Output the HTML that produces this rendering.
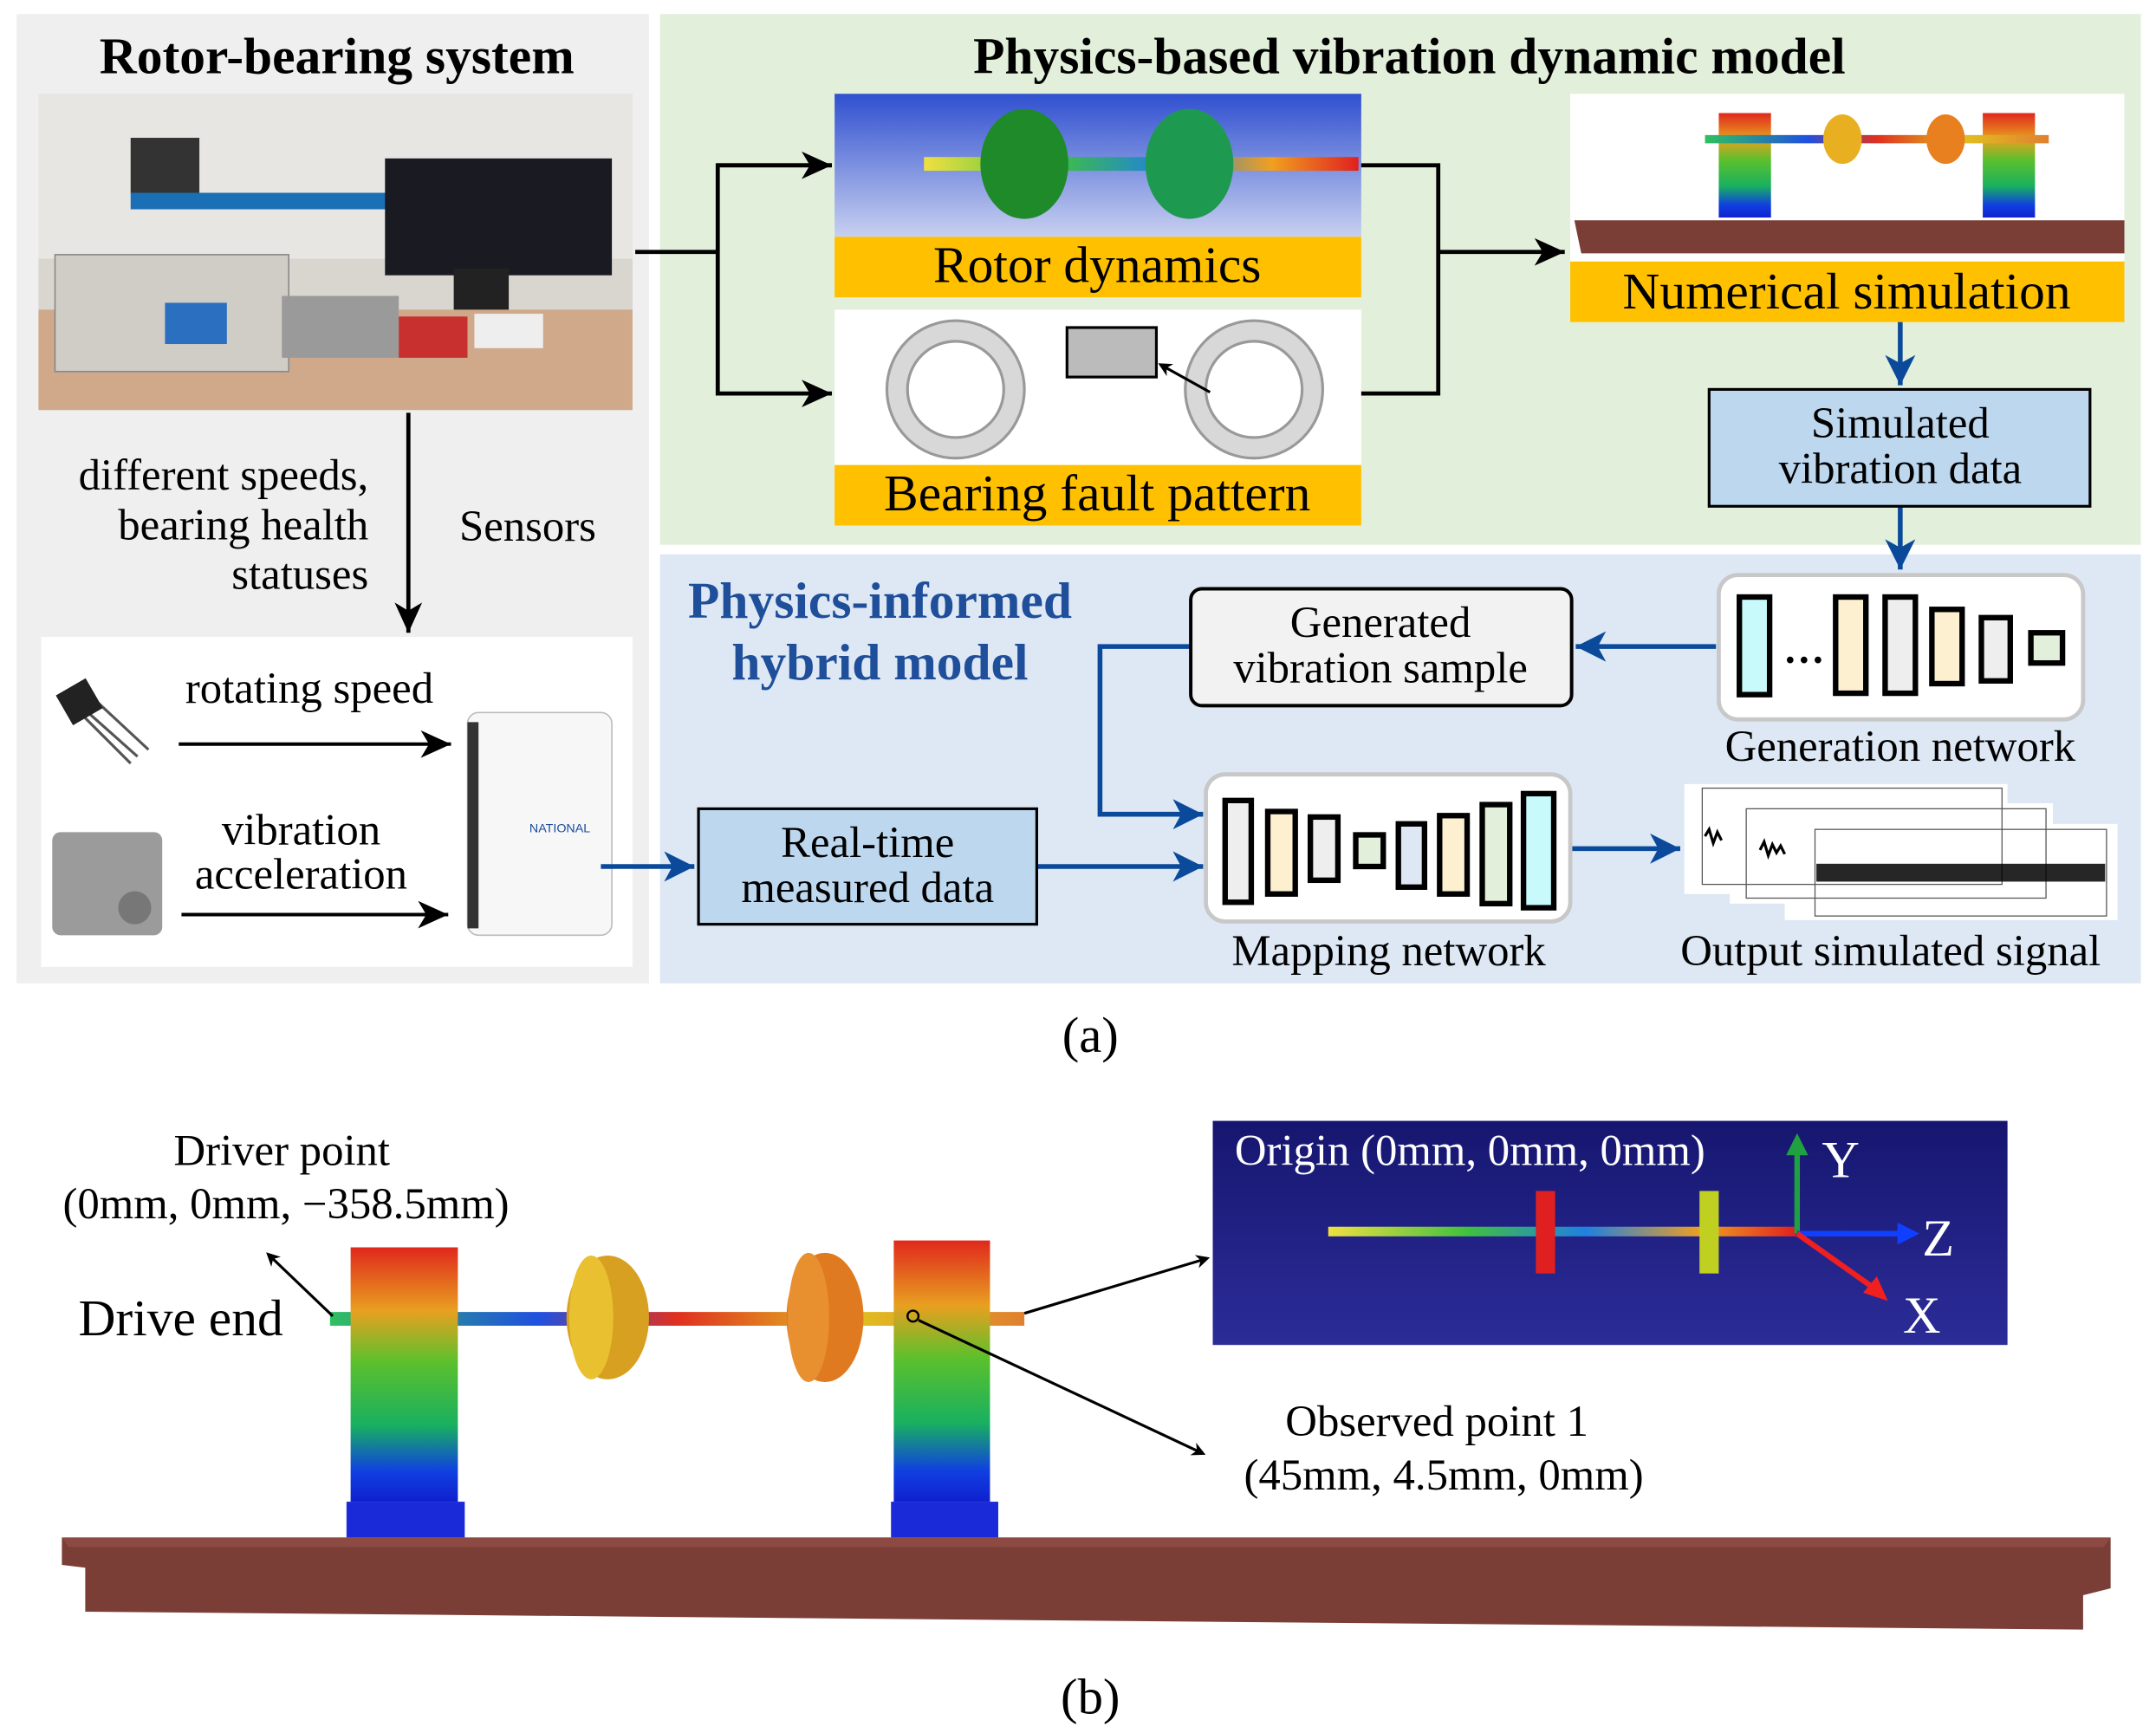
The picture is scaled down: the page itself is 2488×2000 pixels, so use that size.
<!DOCTYPE html>
<html><head><meta charset="utf-8"><style>html,body{margin:0;padding:0;background:#fff}svg{display:block}</style></head>
<body>
<svg width="2488" height="2000" viewBox="0 0 1568 1260" xmlns="http://www.w3.org/2000/svg" font-family="'Liberation Serif',serif">
<defs>
<marker id="ab" markerWidth="10" markerHeight="10" refX="8" refY="5" orient="auto" markerUnits="userSpaceOnUse"><path d="M0,0 L10,5 L0,10 L3,5 z" fill="#000"/></marker>
<marker id="abl" markerWidth="24" markerHeight="24" refX="22" refY="12" orient="auto" markerUnits="userSpaceOnUse"><path d="M0,1 L22,12 L0,23 L6,12 z" fill="#0b4a9a"/></marker>
<marker id="abk" markerWidth="24" markerHeight="24" refX="22" refY="12" orient="auto" markerUnits="userSpaceOnUse"><path d="M0,2 L22,12 L0,22 L6,12 z" fill="#000"/></marker>
<linearGradient id="ped" x1="0" y1="0" x2="0" y2="1"><stop offset="0" stop-color="#e0281c"/><stop offset="0.25" stop-color="#e8a020"/><stop offset="0.45" stop-color="#5cc02c"/><stop offset="0.7" stop-color="#18b060"/><stop offset="0.88" stop-color="#1040e0"/><stop offset="1" stop-color="#1020d0"/></linearGradient>
<linearGradient id="shaft" x1="0" y1="0" x2="1" y2="0"><stop offset="0" stop-color="#30c060"/><stop offset="0.3" stop-color="#2050e0"/><stop offset="0.5" stop-color="#e03020"/><stop offset="0.75" stop-color="#e0c020"/><stop offset="1" stop-color="#e08030"/></linearGradient>
<linearGradient id="orig" x1="0" y1="0" x2="0" y2="1"><stop offset="0" stop-color="#161670"/><stop offset="1" stop-color="#2c2c98"/></linearGradient>
<linearGradient id="rot" x1="0" y1="0" x2="0" y2="1"><stop offset="0" stop-color="#3050d0"/><stop offset="1" stop-color="#c8d0f0"/></linearGradient>
<linearGradient id="sh2" x1="0" y1="0" x2="1" y2="0"><stop offset="0" stop-color="#f0e040"/><stop offset="0.3" stop-color="#40c040"/><stop offset="0.55" stop-color="#2080e0"/><stop offset="0.8" stop-color="#f0a020"/><stop offset="1" stop-color="#e02020"/></linearGradient>
</defs>

<rect x="12" y="10" width="460" height="705" fill="#efefef"/>
<rect x="480" y="10" width="1077" height="386" fill="#e2efda"/>
<rect x="480" y="403" width="1077" height="312" fill="#dde8f4"/>

<text x="245" y="53" font-size="37.5" font-weight="bold" text-anchor="middle">Rotor-bearing system</text>
<text x="1025" y="53" font-size="37.5" font-weight="bold" text-anchor="middle">Physics-based vibration dynamic model</text>

<rect x="28" y="68" width="432" height="230" fill="#d9d6d0"/>
<rect x="28" y="68" width="432" height="120" fill="#e8e6e2"/>
<rect x="28" y="225" width="432" height="73" fill="#cfa98a"/>
<rect x="40" y="185" width="170" height="85" fill="#cfcdc6" stroke="#888"/>
<rect x="120" y="220" width="45" height="30" fill="#2a6fc0"/>
<rect x="95" y="140" width="220" height="12" fill="#1b6fb5"/>
<rect x="280" y="115" width="165" height="85" fill="#1a1a22"/>
<rect x="330" y="195" width="40" height="30" fill="#222"/>
<rect x="205" y="215" width="85" height="45" fill="#9a9a9a"/>
<rect x="290" y="230" width="50" height="30" fill="#c83030"/>
<rect x="345" y="228" width="50" height="25" fill="#eee"/>
<rect x="95" y="100" width="50" height="40" fill="#333"/>

<line x1="297" y1="300" x2="297" y2="460" stroke="#000" stroke-width="3" marker-end="url(#abk)"/>
<g font-size="32">
<text x="268" y="356" text-anchor="end">different speeds,</text>
<text x="268" y="392" text-anchor="end">bearing health</text>
<text x="268" y="428" text-anchor="end">statuses</text>
<text x="334" y="393">Sensors</text>
</g>
<rect x="30" y="463" width="430" height="240" fill="#fff"/>
<g font-size="32" text-anchor="middle">
<text x="225" y="511">rotating speed</text>
<text x="219" y="614">vibration</text>
<text x="219" y="646">acceleration</text>
</g>
<line x1="130" y1="541" x2="328" y2="541" stroke="#000" stroke-width="2.5" marker-end="url(#abk)"/>
<line x1="132" y1="665" x2="326" y2="665" stroke="#000" stroke-width="2.5" marker-end="url(#abk)"/>
<g stroke="#555" stroke-width="2"><line x1="55" y1="510" x2="100" y2="550"/><line x1="65" y1="505" x2="108" y2="545"/><line x1="60" y1="520" x2="95" y2="555"/></g>
<rect x="45" y="498" width="25" height="25" fill="#222" transform="rotate(-30 57 510)"/>
<rect x="38" y="605" width="80" height="75" rx="6" fill="#9b9b9b"/>
<circle cx="98" cy="660" r="12" fill="#777"/>
<rect x="340" y="518" width="105" height="162" rx="8" fill="#f7f7f7" stroke="#bbb"/>
<rect x="340" y="525" width="8" height="150" fill="#333"/>
<text x="385" y="605" font-size="9" fill="#1a4a9a" font-family="'Liberation Sans',sans-serif">NATIONAL</text>

<text x="640" y="449" font-size="37.5" font-weight="bold" fill="#1f4e9a" text-anchor="middle">Physics-informed</text>
<text x="640" y="494" font-size="37.5" font-weight="bold" fill="#1f4e9a" text-anchor="middle">hybrid model</text>

<g stroke="#0b4a9a" stroke-width="3.5" fill="none">
<line x1="437" y1="630" x2="505" y2="630" marker-end="url(#abl)"/>
<line x1="754" y1="630" x2="875" y2="630" marker-end="url(#abl)"/>
<line x1="1143" y1="617" x2="1222" y2="617" marker-end="url(#abl)"/>
<line x1="1248" y1="470" x2="1146" y2="470" marker-end="url(#abl)"/>
<polyline points="866,470 800,470 800,592 875,592" marker-end="url(#abl)"/>
<line x1="1382" y1="234" x2="1382" y2="280" marker-end="url(#abl)"/>
<line x1="1382" y1="368" x2="1382" y2="414" marker-end="url(#abl)"/>
</g>

<rect x="508" y="588" width="246" height="84" fill="#bdd7ee" stroke="#000" stroke-width="2"/>
<text x="631" y="623" font-size="32" text-anchor="middle">Real-time</text>
<text x="631" y="656" font-size="32" text-anchor="middle">measured data</text>

<rect x="866" y="428" width="277" height="85" rx="8" fill="#f2f2f2" stroke="#000" stroke-width="2.5"/>
<text x="1004" y="463" font-size="32" text-anchor="middle">Generated</text>
<text x="1004" y="496" font-size="32" text-anchor="middle">vibration sample</text>

<rect x="1250" y="418" width="265" height="105" rx="14" fill="#fff" stroke="#c8c8c8" stroke-width="3"/>
<g stroke="#000" stroke-width="4">
<rect x="1265" y="434" width="22" height="71" fill="#c8fafc"/>
<rect x="1335" y="434" width="22" height="70" fill="#fdf0d0"/>
<rect x="1371" y="434" width="22" height="70" fill="#eee"/>
<rect x="1405" y="443" width="22" height="54" fill="#fdf0d0"/>
<rect x="1441" y="449" width="21" height="46" fill="#eee"/>
<rect x="1477" y="460" width="23" height="22" fill="#e2efda"/>
</g>
<text x="1312" y="482" font-size="30" font-weight="bold" text-anchor="middle">…</text>
<text x="1382" y="553" font-size="32" text-anchor="middle">Generation network</text>

<rect x="877" y="563" width="265" height="107" rx="14" fill="#fff" stroke="#c8c8c8" stroke-width="3"/>
<g stroke="#000" stroke-width="4">
<rect x="891" y="582" width="19" height="74" fill="#eee"/>
<rect x="922" y="590" width="20" height="60" fill="#fdf0d0"/>
<rect x="953" y="594" width="20" height="46" fill="#eee"/>
<rect x="986" y="607" width="20" height="23" fill="#e2efda"/>
<rect x="1017" y="599" width="19" height="46" fill="#dde8f4"/>
<rect x="1047" y="593" width="20" height="57" fill="#fdf0d0"/>
<rect x="1078" y="585" width="20" height="72" fill="#e2efda"/>
<rect x="1108" y="577" width="22" height="83" fill="#c8fafc"/>
</g>
<text x="1010" y="702" font-size="32" text-anchor="middle">Mapping network</text>

<rect x="1225" y="570" width="235" height="80" fill="#fff"/>
<rect x="1258" y="584" width="235" height="73" fill="#fff"/>
<rect x="1298" y="599" width="242" height="70" fill="#fff"/>
<g stroke="#555" stroke-width="0.8" fill="none">
<rect x="1238" y="573" width="218" height="70"/>
<rect x="1270" y="588" width="218" height="65"/>
<rect x="1320" y="603" width="212" height="63"/>
</g>
<path d="M1240,608 l3,-5 l3,10 l3,-8 l3,6 M1280,618 l3,-6 l3,10 l3,-8 l3,6 l3,-5 l3,6" stroke="#000" stroke-width="2" fill="none"/>
<rect x="1321" y="628" width="210" height="13" fill="#000" opacity="0.85"/>
<text x="1375" y="702" font-size="32" text-anchor="middle">Output simulated signal</text>

<rect x="607" y="68" width="383" height="104" fill="url(#rot)"/>
<rect x="672" y="114" width="316" height="10" fill="url(#sh2)"/>
<ellipse cx="745" cy="119" rx="32" ry="40" fill="#1f8a2a"/>
<ellipse cx="865" cy="119" rx="32" ry="40" fill="#1e9a50"/>
<rect x="607" y="172" width="383" height="44" fill="#ffc000"/>
<text x="798" y="205" font-size="37.5" text-anchor="middle">Rotor dynamics</text>
<rect x="607" y="225" width="383" height="113" fill="#fff"/>
<ellipse cx="695" cy="283" rx="50" ry="50" fill="#d8d8d8" stroke="#999" stroke-width="2"/>
<ellipse cx="695" cy="283" rx="35" ry="35" fill="#fff" stroke="#999" stroke-width="2"/>
<ellipse cx="912" cy="283" rx="50" ry="50" fill="#d8d8d8" stroke="#999" stroke-width="2"/>
<ellipse cx="912" cy="283" rx="35" ry="35" fill="#fff" stroke="#999" stroke-width="2"/>
<rect x="776" y="238" width="65" height="36" fill="#bbb" stroke="#000" stroke-width="2"/>
<line x1="880" y1="285" x2="844" y2="265" stroke="#000" stroke-width="2" marker-end="url(#ab)"/>
<rect x="607" y="338" width="383" height="44" fill="#ffc000"/>
<text x="798" y="371" font-size="37.5" text-anchor="middle">Bearing fault pattern</text>

<rect x="1142" y="68" width="403" height="122" fill="#fff"/>
<path d="M1145,160 L1545,160 L1545,184 L1150,184 z" fill="#7a3e37"/>
<rect x="1250" y="82" width="38" height="76" fill="url(#ped)"/>
<rect x="1442" y="82" width="38" height="76" fill="url(#ped)"/>
<rect x="1240" y="98" width="250" height="6" fill="url(#shaft)"/>
<ellipse cx="1340" cy="101" rx="14" ry="18" fill="#e8b020"/>
<ellipse cx="1415" cy="101" rx="14" ry="18" fill="#e88020"/>
<rect x="1142" y="190" width="403" height="44" fill="#ffc000"/>
<text x="1343" y="224" font-size="37.5" text-anchor="middle">Numerical simulation</text>

<rect x="1243" y="283" width="277" height="85" fill="#bdd7ee" stroke="#000" stroke-width="2"/>
<text x="1382" y="318" font-size="32" text-anchor="middle">Simulated</text>
<text x="1382" y="351" font-size="32" text-anchor="middle">vibration data</text>

<g stroke="#000" stroke-width="3" fill="none">
<line x1="462" y1="183" x2="522" y2="183"/>
<polyline points="605,120 522,120 522,286 605,286" marker-end="url(#abk)"/>
<line x1="522" y1="120" x2="605" y2="120" marker-end="url(#abk)"/>
<polyline points="990,120 1046,120 1046,286 990,286"/>
<line x1="1046" y1="183" x2="1138" y2="183" marker-end="url(#abk)"/>
</g>

<text x="793" y="765" font-size="37" text-anchor="middle">(a)</text>

<g font-size="32">
<text x="205" y="847" text-anchor="middle">Driver point</text>
<text x="208" y="886" text-anchor="middle">(0mm, 0mm, −358.5mm)</text>
<text x="57" y="971" font-size="37.5">Drive end</text>
<text x="1045" y="1044" text-anchor="middle">Observed point 1</text>
<text x="1050" y="1083" text-anchor="middle">(45mm, 4.5mm, 0mm)</text>
<text x="898" y="847" fill="#fff">Origin (0mm, 0mm, 0mm)</text>
</g>

<rect x="882" y="815" width="578" height="163" fill="url(#orig)" />
<text x="898" y="847" font-size="32" fill="#fff">Origin (0mm, 0mm, 0mm)</text>
<rect x="966" y="892" width="340" height="7" fill="url(#sh2)"/>
<rect x="1117" y="866" width="14" height="60" fill="#e02020"/>
<rect x="1236" y="866" width="14" height="60" fill="#c0d020"/>
<line x1="1307" y1="897" x2="1307" y2="832" stroke="#20a040" stroke-width="4"/>
<path d="M1299,840 L1307,824 L1315,840 z" fill="#20a040"/>
<line x1="1307" y1="897" x2="1385" y2="897" stroke="#1040ff" stroke-width="4"/>
<path d="M1380,889 L1396,897 L1380,905 z" fill="#1040ff"/>
<line x1="1307" y1="897" x2="1362" y2="936" stroke="#f02020" stroke-width="4"/>
<path d="M1355,940 L1373,946 L1365,928 z" fill="#f02020"/>
<text x="1325" y="856" font-size="38" fill="#fff">Y</text>
<text x="1398" y="913" font-size="38" fill="#fff">Z</text>
<text x="1384" y="969" font-size="38" fill="#fff">X</text>

<path d="M45,1118 L1535,1118 L1535,1155 L1515,1160 L1515,1185 L62,1172 L62,1140 L45,1138 z" fill="#7a3e37"/>
<path d="M45,1118 L1535,1118 L1530,1125 L50,1125 z" fill="#8c4a42"/>
<rect x="240" y="954" width="505" height="10" fill="url(#shaft)"/>
<rect x="255" y="907" width="78" height="185" fill="url(#ped)"/>
<rect x="252" y="1092" width="86" height="26" fill="#1a2ad8"/>
<rect x="650" y="902" width="70" height="190" fill="url(#ped)"/>
<rect x="648" y="1092" width="78" height="26" fill="#1a2ad8"/>
<ellipse cx="442" cy="958" rx="30" ry="45" fill="#d8a020"/>
<ellipse cx="430" cy="958" rx="16" ry="45" fill="#e8c030"/>
<ellipse cx="600" cy="958" rx="28" ry="47" fill="#e07a20"/>
<ellipse cx="588" cy="958" rx="15" ry="47" fill="#e89030"/>
<circle cx="664" cy="957" r="4" fill="none" stroke="#000" stroke-width="1.5"/>
<g stroke="#000" stroke-width="2" fill="none">
<line x1="242" y1="957" x2="195" y2="912" marker-end="url(#ab)"/>
<line x1="745" y1="955" x2="878" y2="915" marker-end="url(#ab)"/>
<line x1="668" y1="960" x2="875" y2="1057" marker-end="url(#ab)"/>
</g>

<text x="793" y="1246" font-size="37" text-anchor="middle">(b)</text>
</svg>
</body></html>
